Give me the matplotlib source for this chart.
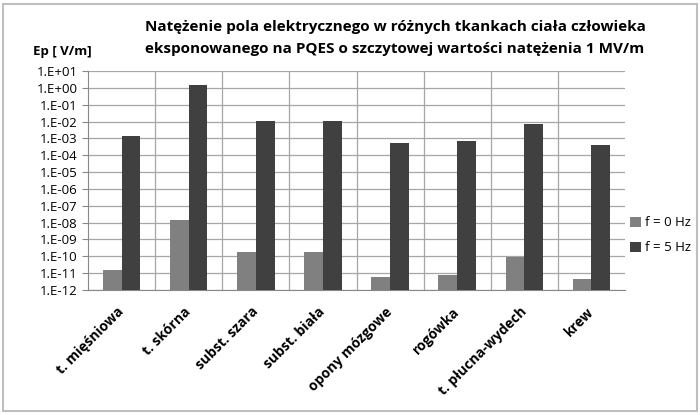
import matplotlib
matplotlib.use('Agg')
import matplotlib.pyplot as plt
import numpy as np
from matplotlib.patches import Rectangle

plt.rcParams['font.family'] = ['Open Sans', 'DejaVu Sans']

tissues = ['t. mięśniowa', 't. skórna', 'subst. szara', 'subst. biała',
           'opony mózgowe', 'rogówka', 't. płucna-wydech', 'krew']
f0_vals = [1.5e-11, 1.5e-8, 1.7e-10, 1.7e-10, 6e-12, 8e-12, 9.5e-11, 4.4e-12]
f5_vals = [1.3e-3, 1.5e0, 1.1e-2, 1.1e-2, 5.3e-4, 6.7e-4, 7.5e-3, 3.9e-4]
tick_vals = [10.0 ** k for k in range(-12, 2)]
tick_labels = ['1.E%+03d' % k for k in range(-12, 2)]

fig = plt.figure(figsize=(7, 4.15), dpi=100)
ax = fig.add_axes([88 / 700, 1 - 290 / 415, (625 - 88) / 700, (290 - 71) / 415])

x = np.arange(len(tissues))
w = 0.28
ax.bar(x - w / 2, f0_vals, w, color='#808080', label='f = 0 Hz', zorder=3)
ax.bar(x + w / 2, f5_vals, w, color='#404040', label='f = 5 Hz', zorder=3)

ax.set_yscale('log')
ax.set_ylim(1e-12, 10)
ax.set_xlim(-0.5, len(tissues) - 0.5)
ax.set_yticks(tick_vals)
ax.set_yticklabels(tick_labels, fontsize=9.5)
ax.yaxis.set_minor_locator(matplotlib.ticker.NullLocator())
ax.set_xticks(x)
ax.set_xticklabels(tissues, rotation=45, ha='right', va='center', rotation_mode='anchor',
                   fontsize=10, fontweight='bold')
ax.tick_params(axis='x', length=0, pad=14)
ax.tick_params(axis='y', length=4, color='#888888', direction='out')

ax.grid(axis='y', color='#a6a6a6', linewidth=0.9, zorder=0)
for b in np.arange(0.5, len(tissues) - 0.5, 1):
    ax.axvline(b, color='#a6a6a6', linewidth=0.9, zorder=0)
for s in ['top', 'right']:
    ax.spines[s].set_visible(False)
ax.spines['left'].set_color('#888888')
ax.spines['bottom'].set_color('#888888')

ax.legend(loc='center left', bbox_to_anchor=(1.0, 0.25), frameon=False,
          fontsize=9.5, handlelength=0.8, handleheight=0.8, handletextpad=0.3,
          labelspacing=0.9, borderaxespad=0.0)

fig.text(395 / 700, 1 - 27 / 415, 'Natężenie pola elektrycznego w różnych tkankach ciała człowieka',
         ha='center', va='center', fontsize=11, fontweight='bold')
fig.text(395 / 700, 1 - 49 / 415, 'eksponowanego na PQES o szczytowej wartości natężenia 1 MV/m',
         ha='center', va='center', fontsize=11, fontweight='bold')
fig.text(62 / 700, 1 - 52 / 415, 'Ep [ V/m]', ha='center', va='center',
         fontsize=9.5, fontweight='bold')

fig.patches.append(Rectangle((3 / 700, 4 / 415), 694 / 700, 407 / 415,
                             transform=fig.transFigure, fill=False,
                             edgecolor='#bfbfbf', linewidth=1.5))

fig.savefig('out.png', dpi=100)
